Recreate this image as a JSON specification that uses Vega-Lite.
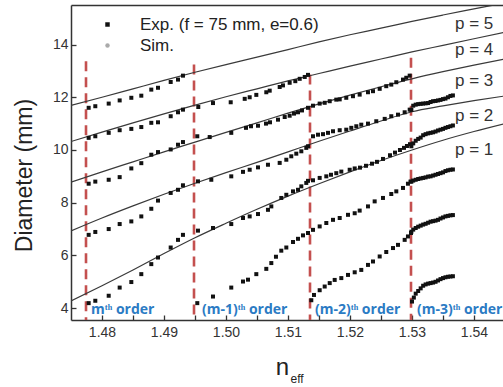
{
  "$schema": "https://vega.github.io/schema/vega-lite/v6.json",
  "width": 432,
  "height": 315,
  "autosize": {"type": "none"},
  "padding": {"left": 71, "top": 5, "right": 0, "bottom": 67},
  "background": "white",
  "config": {"view": {"stroke": null}, "font": "Liberation Sans"},
  "resolve": {"axis": {"x": "independent"}},
  "layer": [
    {
      "data": {"values": [
        {"n": 1.47742, "top": 13.37, "bottom": 3.55},
        {"n": 1.49484, "top": 13.24, "bottom": 3.55},
        {"n": 1.51355, "top": 12.86, "bottom": 3.55},
        {"n": 1.52984, "top": 13.5, "bottom": 3.55}
      ]},
      "mark": {"type": "rule", "color": "#c4504f", "strokeWidth": 2.6, "strokeDash": [10, 6]},
      "encoding": {
        "x": {"field": "n", "type": "quantitative",
          "scale": {"domain": [1.475, 1.54468], "nice": false, "zero": false},
          "axis": {"orient": "bottom", "values": [1.48, 1.485, 1.49, 1.495, 1.5, 1.505, 1.51, 1.515, 1.52, 1.525, 1.53, 1.535, 1.54],
            "labelExpr": "round(datum.value*1000) % 10 == 0 ? format(datum.value, '.2f') : ''",
            "title": "n", "titleFontSize": 24, "titleFontWeight": "normal", "titleColor": "#222",
            "titleX": 211, "titleY": 54, "titleAlign": "center", "titleBaseline": "alphabetic",
            "labelFontSize": 14, "labelColor": "#333", "labelPadding": 10, "labelFlush": false, "labelOverlap": false,
            "tickSize": -5, "tickColor": "#333", "tickWidth": 1.3, "domainColor": "#333", "domainWidth": 1.5, "grid": false}},
        "y": {"field": "top", "type": "quantitative",
          "scale": {"domain": [3.55, 15.5], "nice": false, "zero": false},
          "axis": {"values": [4, 5, 6, 7, 8, 9, 10, 11, 12, 13, 14, 15],
            "labelExpr": "datum.value % 2 == 0 ? datum.label : ''",
            "title": "Diameter (mm)", "titleFontSize": 23, "titleFontWeight": "normal", "titleColor": "#222",
            "titleX": -40, "titleY": 170, "titleAlign": "center", "titleBaseline": "alphabetic", "titleAngle": -90,
            "labelFontSize": 14, "labelColor": "#333", "labelPadding": 8, "labelFlush": false, "labelOverlap": false,
            "tickSize": -5, "tickColor": "#333", "tickWidth": 1.3, "domainColor": "#333", "domainWidth": 1.5, "grid": false}},
        "y2": {"field": "bottom"}
      }
    },
    {
      "data": {"values": [
        {"p": 1, "n": 1.475, "d": 4.27}, {"p": 1, "n": 1.48, "d": 4.85}, {"p": 1, "n": 1.485, "d": 5.45}, {"p": 1, "n": 1.49, "d": 6.07}, {"p": 1, "n": 1.495, "d": 6.67}, {"p": 1, "n": 1.5, "d": 7.22}, {"p": 1, "n": 1.505, "d": 7.75}, {"p": 1, "n": 1.51, "d": 8.25}, {"p": 1, "n": 1.515, "d": 8.72}, {"p": 1, "n": 1.52, "d": 9.17}, {"p": 1, "n": 1.525, "d": 9.6}, {"p": 1, "n": 1.53, "d": 10.0}, {"p": 1, "n": 1.535, "d": 10.37}, {"p": 1, "n": 1.54, "d": 10.7}, {"p": 1, "n": 1.545, "d": 11.0},
        {"p": 2, "n": 1.475, "d": 6.93}, {"p": 2, "n": 1.48, "d": 7.42}, {"p": 2, "n": 1.485, "d": 7.88}, {"p": 2, "n": 1.49, "d": 8.32}, {"p": 2, "n": 1.495, "d": 8.74}, {"p": 2, "n": 1.5, "d": 9.14}, {"p": 2, "n": 1.505, "d": 9.53}, {"p": 2, "n": 1.51, "d": 9.93}, {"p": 2, "n": 1.515, "d": 10.33}, {"p": 2, "n": 1.52, "d": 10.72}, {"p": 2, "n": 1.525, "d": 11.1}, {"p": 2, "n": 1.53, "d": 11.45}, {"p": 2, "n": 1.535, "d": 11.67}, {"p": 2, "n": 1.54, "d": 11.87}, {"p": 2, "n": 1.545, "d": 12.05},
        {"p": 3, "n": 1.475, "d": 8.78}, {"p": 3, "n": 1.48, "d": 9.17}, {"p": 3, "n": 1.485, "d": 9.55}, {"p": 3, "n": 1.49, "d": 9.93}, {"p": 3, "n": 1.495, "d": 10.3}, {"p": 3, "n": 1.5, "d": 10.67}, {"p": 3, "n": 1.505, "d": 11.03}, {"p": 3, "n": 1.51, "d": 11.4}, {"p": 3, "n": 1.515, "d": 11.75}, {"p": 3, "n": 1.52, "d": 12.08}, {"p": 3, "n": 1.525, "d": 12.4}, {"p": 3, "n": 1.53, "d": 12.7}, {"p": 3, "n": 1.535, "d": 12.97}, {"p": 3, "n": 1.54, "d": 13.22}, {"p": 3, "n": 1.545, "d": 13.45},
        {"p": 4, "n": 1.475, "d": 10.32}, {"p": 4, "n": 1.48, "d": 10.68}, {"p": 4, "n": 1.485, "d": 11.03}, {"p": 4, "n": 1.49, "d": 11.37}, {"p": 4, "n": 1.495, "d": 11.7}, {"p": 4, "n": 1.5, "d": 12.02}, {"p": 4, "n": 1.505, "d": 12.32}, {"p": 4, "n": 1.51, "d": 12.62}, {"p": 4, "n": 1.515, "d": 12.9}, {"p": 4, "n": 1.52, "d": 13.18}, {"p": 4, "n": 1.525, "d": 13.45}, {"p": 4, "n": 1.53, "d": 13.72}, {"p": 4, "n": 1.535, "d": 13.97}, {"p": 4, "n": 1.54, "d": 14.22}, {"p": 4, "n": 1.545, "d": 14.47},
        {"p": 5, "n": 1.475, "d": 11.69}, {"p": 5, "n": 1.48, "d": 12.0}, {"p": 5, "n": 1.485, "d": 12.32}, {"p": 5, "n": 1.49, "d": 12.64}, {"p": 5, "n": 1.495, "d": 12.95}, {"p": 5, "n": 1.5, "d": 13.24}, {"p": 5, "n": 1.505, "d": 13.52}, {"p": 5, "n": 1.51, "d": 13.81}, {"p": 5, "n": 1.515, "d": 14.1}, {"p": 5, "n": 1.52, "d": 14.37}, {"p": 5, "n": 1.525, "d": 14.62}, {"p": 5, "n": 1.53, "d": 14.88}, {"p": 5, "n": 1.535, "d": 15.12}, {"p": 5, "n": 1.54, "d": 15.35}, {"p": 5, "n": 1.545, "d": 15.58}
      ]},
      "mark": {"type": "line", "color": "#3a3a3a", "strokeWidth": 1.2, "clip": true, "interpolate": "monotone"},
      "encoding": {
        "x": {"field": "n", "type": "quantitative", "axis": null},
        "y": {"field": "d", "type": "quantitative"},
        "detail": {"field": "p", "type": "nominal"}
      }
    },
    {
      "data": {"values": [
        {"n": 1.47785, "d": 11.60}, {"n": 1.47892, "d": 11.66}, {"n": 1.48108, "d": 11.76}, {"n": 1.48285, "d": 11.88}, {"n": 1.48473, "d": 11.98}, {"n": 1.48634, "d": 12.06}, {"n": 1.48795, "d": 12.29}, {"n": 1.48903, "d": 12.36}, {"n": 1.49108, "d": 12.58}, {"n": 1.49226, "d": 12.67}, {"n": 1.49306, "d": 12.82},
        {"n": 1.47785, "d": 10.46}, {"n": 1.47892, "d": 10.52}, {"n": 1.48108, "d": 10.65}, {"n": 1.48285, "d": 10.75}, {"n": 1.48473, "d": 10.80}, {"n": 1.48634, "d": 10.87}, {"n": 1.48795, "d": 11.03}, {"n": 1.48903, "d": 11.05}, {"n": 1.49108, "d": 11.28}, {"n": 1.49226, "d": 11.43}, {"n": 1.49306, "d": 11.53},
        {"n": 1.47785, "d": 8.72}, {"n": 1.47892, "d": 8.80}, {"n": 1.48108, "d": 8.87}, {"n": 1.48285, "d": 8.97}, {"n": 1.48473, "d": 9.30}, {"n": 1.48634, "d": 9.50}, {"n": 1.48795, "d": 9.82}, {"n": 1.48903, "d": 9.92}, {"n": 1.49108, "d": 10.02}, {"n": 1.49226, "d": 10.20}, {"n": 1.49306, "d": 10.30},
        {"n": 1.47785, "d": 6.78}, {"n": 1.47892, "d": 6.89}, {"n": 1.48108, "d": 7.00}, {"n": 1.48285, "d": 7.19}, {"n": 1.48473, "d": 7.29}, {"n": 1.48634, "d": 7.48}, {"n": 1.48795, "d": 7.77}, {"n": 1.48903, "d": 8.08}, {"n": 1.49108, "d": 8.37}, {"n": 1.49226, "d": 8.49}, {"n": 1.49306, "d": 8.66},
        {"n": 1.47785, "d": 4.19}, {"n": 1.47892, "d": 4.28}, {"n": 1.48108, "d": 4.47}, {"n": 1.48285, "d": 4.78}, {"n": 1.48473, "d": 4.99}, {"n": 1.48634, "d": 5.29}, {"n": 1.48795, "d": 5.67}, {"n": 1.48903, "d": 5.92}, {"n": 1.49108, "d": 6.30}, {"n": 1.49226, "d": 6.59}, {"n": 1.49306, "d": 6.78},

        {"n": 1.49553, "d": 11.63}, {"n": 1.4979, "d": 11.78}, {"n": 1.50076, "d": 11.81}, {"n": 1.50302, "d": 11.94}, {"n": 1.50382, "d": 12.0}, {"n": 1.50489, "d": 12.09}, {"n": 1.5065, "d": 12.19}, {"n": 1.50705, "d": 12.25}, {"n": 1.50866, "d": 12.39}, {"n": 1.50919, "d": 12.45}, {"n": 1.51027, "d": 12.55}, {"n": 1.51118, "d": 12.61}, {"n": 1.51189, "d": 12.7}, {"n": 1.5127, "d": 12.77}, {"n": 1.51323, "d": 12.85},
        {"n": 1.49537, "d": 10.52}, {"n": 1.49737, "d": 10.49}, {"n": 1.50085, "d": 10.65}, {"n": 1.50323, "d": 10.84}, {"n": 1.50403, "d": 10.9}, {"n": 1.50516, "d": 10.92}, {"n": 1.50645, "d": 11.0}, {"n": 1.5071, "d": 11.05}, {"n": 1.50839, "d": 11.15}, {"n": 1.50947, "d": 11.25}, {"n": 1.51027, "d": 11.3}, {"n": 1.51097, "d": 11.38}, {"n": 1.51161, "d": 11.43}, {"n": 1.51226, "d": 11.5}, {"n": 1.51323, "d": 11.6},
        {"n": 1.49548, "d": 8.81}, {"n": 1.49763, "d": 8.87}, {"n": 1.50085, "d": 9.0}, {"n": 1.50274, "d": 9.17}, {"n": 1.50382, "d": 9.25}, {"n": 1.50516, "d": 9.34}, {"n": 1.50677, "d": 9.44}, {"n": 1.50866, "d": 9.51}, {"n": 1.50973, "d": 9.63}, {"n": 1.51053, "d": 9.76}, {"n": 1.51134, "d": 9.86}, {"n": 1.51215, "d": 9.95}, {"n": 1.51295, "d": 10.08}, {"n": 1.51323, "d": 10.14},
        {"n": 1.49548, "d": 6.94}, {"n": 1.4979, "d": 7.04}, {"n": 1.50085, "d": 7.19}, {"n": 1.50274, "d": 7.42}, {"n": 1.50382, "d": 7.48}, {"n": 1.50516, "d": 7.57}, {"n": 1.50677, "d": 7.73}, {"n": 1.50731, "d": 7.86}, {"n": 1.50892, "d": 8.18}, {"n": 1.50973, "d": 8.30}, {"n": 1.51081, "d": 8.43}, {"n": 1.51161, "d": 8.49}, {"n": 1.51215, "d": 8.62}, {"n": 1.51295, "d": 8.75}, {"n": 1.51323, "d": 8.83},
        {"n": 1.49537, "d": 4.19}, {"n": 1.4979, "d": 4.44}, {"n": 1.50085, "d": 4.78}, {"n": 1.50274, "d": 5.01}, {"n": 1.50355, "d": 5.08}, {"n": 1.50489, "d": 5.29}, {"n": 1.5065, "d": 5.49}, {"n": 1.50731, "d": 5.71}, {"n": 1.50806, "d": 5.95}, {"n": 1.50892, "d": 6.18}, {"n": 1.50973, "d": 6.30}, {"n": 1.51081, "d": 6.51}, {"n": 1.51161, "d": 6.63}, {"n": 1.51242, "d": 6.76}, {"n": 1.51323, "d": 6.85},

        {"n": 1.51403, "d": 11.68}, {"n": 1.51511, "d": 11.76}, {"n": 1.51592, "d": 11.79}, {"n": 1.51673, "d": 11.85}, {"n": 1.51779, "d": 11.91}, {"n": 1.51834, "d": 11.92}, {"n": 1.5194, "d": 11.98}, {"n": 1.52048, "d": 12.04}, {"n": 1.52156, "d": 12.10}, {"n": 1.5229, "d": 12.19}, {"n": 1.52371, "d": 12.23}, {"n": 1.52479, "d": 12.32}, {"n": 1.52585, "d": 12.42}, {"n": 1.52666, "d": 12.48}, {"n": 1.52747, "d": 12.57}, {"n": 1.52855, "d": 12.67}, {"n": 1.52908, "d": 12.74}, {"n": 1.52963, "d": 12.82},
        {"n": 1.51403, "d": 10.52}, {"n": 1.51484, "d": 10.58}, {"n": 1.51565, "d": 10.60}, {"n": 1.51645, "d": 10.65}, {"n": 1.51726, "d": 10.71}, {"n": 1.51834, "d": 10.75}, {"n": 1.5194, "d": 10.77}, {"n": 1.52021, "d": 10.84}, {"n": 1.52102, "d": 10.90}, {"n": 1.52182, "d": 10.96}, {"n": 1.5229, "d": 11.00}, {"n": 1.52424, "d": 11.09}, {"n": 1.5256, "d": 11.18}, {"n": 1.52666, "d": 11.28}, {"n": 1.52774, "d": 11.34}, {"n": 1.52882, "d": 11.43}, {"n": 1.52963, "d": 11.53},
        {"n": 1.51403, "d": 8.85}, {"n": 1.51511, "d": 8.94}, {"n": 1.51618, "d": 9.00}, {"n": 1.51694, "d": 9.06}, {"n": 1.51779, "d": 9.12}, {"n": 1.5186, "d": 9.18}, {"n": 1.51995, "d": 9.25}, {"n": 1.52076, "d": 9.30}, {"n": 1.52161, "d": 9.33}, {"n": 1.52258, "d": 9.40}, {"n": 1.52355, "d": 9.48}, {"n": 1.52435, "d": 9.55}, {"n": 1.52532, "d": 9.66}, {"n": 1.52645, "d": 9.80}, {"n": 1.52726, "d": 9.90}, {"n": 1.52806, "d": 10.00}, {"n": 1.52871, "d": 10.08}, {"n": 1.52919, "d": 10.15}, {"n": 1.52968, "d": 10.22},
        {"n": 1.51403, "d": 6.97}, {"n": 1.51511, "d": 7.10}, {"n": 1.51618, "d": 7.23}, {"n": 1.51726, "d": 7.35}, {"n": 1.51834, "d": 7.42}, {"n": 1.51968, "d": 7.54}, {"n": 1.52076, "d": 7.60}, {"n": 1.52156, "d": 7.70}, {"n": 1.5229, "d": 7.86}, {"n": 1.52398, "d": 8.05}, {"n": 1.52532, "d": 8.18}, {"n": 1.52666, "d": 8.33}, {"n": 1.52747, "d": 8.43}, {"n": 1.52855, "d": 8.56}, {"n": 1.52935, "d": 8.72}, {"n": 1.52976, "d": 8.80},
        {"n": 1.51376, "d": 4.30}, {"n": 1.51419, "d": 4.50}, {"n": 1.51511, "d": 4.68}, {"n": 1.51592, "d": 4.82}, {"n": 1.51673, "d": 4.95}, {"n": 1.51753, "d": 5.07}, {"n": 1.5186, "d": 5.14}, {"n": 1.51968, "d": 5.26}, {"n": 1.52076, "d": 5.36}, {"n": 1.52182, "d": 5.45}, {"n": 1.5229, "d": 5.64}, {"n": 1.52371, "d": 5.77}, {"n": 1.52479, "d": 5.96}, {"n": 1.52585, "d": 6.13}, {"n": 1.52694, "d": 6.28}, {"n": 1.52774, "d": 6.40}, {"n": 1.52882, "d": 6.59}, {"n": 1.52935, "d": 6.72}, {"n": 1.52984, "d": 6.85},

        {"n": 1.5299, "d": 11.52}, {"n": 1.5302, "d": 11.68}, {"n": 1.5306, "d": 11.72}, {"n": 1.531, "d": 11.74}, {"n": 1.5314, "d": 11.75}, {"n": 1.5318, "d": 11.76}, {"n": 1.5322, "d": 11.77}, {"n": 1.5326, "d": 11.78}, {"n": 1.533, "d": 11.82}, {"n": 1.5334, "d": 11.85}, {"n": 1.5338, "d": 11.86}, {"n": 1.5342, "d": 11.88}, {"n": 1.5346, "d": 11.9}, {"n": 1.535, "d": 11.93}, {"n": 1.5354, "d": 11.95}, {"n": 1.5358, "d": 12.0}, {"n": 1.5362, "d": 12.05}, {"n": 1.5366, "d": 12.07},
        {"n": 1.5299, "d": 10.14}, {"n": 1.5302, "d": 10.25}, {"n": 1.5306, "d": 10.35}, {"n": 1.531, "d": 10.42}, {"n": 1.5314, "d": 10.47}, {"n": 1.5318, "d": 10.56}, {"n": 1.5322, "d": 10.6}, {"n": 1.5326, "d": 10.63}, {"n": 1.533, "d": 10.65}, {"n": 1.5334, "d": 10.67}, {"n": 1.5338, "d": 10.7}, {"n": 1.5342, "d": 10.74}, {"n": 1.5346, "d": 10.77}, {"n": 1.535, "d": 10.8}, {"n": 1.5354, "d": 10.84}, {"n": 1.5358, "d": 10.87}, {"n": 1.5362, "d": 10.9}, {"n": 1.5366, "d": 10.93},
        {"n": 1.5299, "d": 8.8}, {"n": 1.5302, "d": 8.84}, {"n": 1.5306, "d": 8.87}, {"n": 1.531, "d": 8.9}, {"n": 1.5314, "d": 8.92}, {"n": 1.5318, "d": 8.94}, {"n": 1.5322, "d": 8.96}, {"n": 1.5326, "d": 8.99}, {"n": 1.533, "d": 9.0}, {"n": 1.5334, "d": 9.03}, {"n": 1.5338, "d": 9.06}, {"n": 1.5342, "d": 9.09}, {"n": 1.5346, "d": 9.12}, {"n": 1.535, "d": 9.15}, {"n": 1.5354, "d": 9.2}, {"n": 1.5358, "d": 9.23}, {"n": 1.5362, "d": 9.25}, {"n": 1.5366, "d": 9.26},
        {"n": 1.5299, "d": 6.9}, {"n": 1.5302, "d": 6.98}, {"n": 1.5306, "d": 7.04}, {"n": 1.531, "d": 7.09}, {"n": 1.5314, "d": 7.13}, {"n": 1.5318, "d": 7.17}, {"n": 1.5322, "d": 7.2}, {"n": 1.5326, "d": 7.24}, {"n": 1.533, "d": 7.28}, {"n": 1.5334, "d": 7.3}, {"n": 1.5338, "d": 7.32}, {"n": 1.5342, "d": 7.35}, {"n": 1.5346, "d": 7.4}, {"n": 1.535, "d": 7.44}, {"n": 1.5354, "d": 7.48}, {"n": 1.5358, "d": 7.5}, {"n": 1.5362, "d": 7.52}, {"n": 1.5366, "d": 7.53},
        {"n": 1.53, "d": 4.25}, {"n": 1.5303, "d": 4.4}, {"n": 1.5306, "d": 4.55}, {"n": 1.531, "d": 4.65}, {"n": 1.5314, "d": 4.75}, {"n": 1.5318, "d": 4.85}, {"n": 1.5322, "d": 4.9}, {"n": 1.5326, "d": 4.93}, {"n": 1.533, "d": 4.95}, {"n": 1.5334, "d": 4.97}, {"n": 1.5338, "d": 5.0}, {"n": 1.5342, "d": 5.05}, {"n": 1.5346, "d": 5.1}, {"n": 1.535, "d": 5.14}, {"n": 1.5354, "d": 5.17}, {"n": 1.5358, "d": 5.19}, {"n": 1.5362, "d": 5.2}, {"n": 1.5366, "d": 5.21}
      ]},
      "mark": {"type": "point", "filled": true, "size": 16, "opacity": 1},
      "encoding": {
        "x": {"field": "n", "type": "quantitative", "axis": null},
        "y": {"field": "d", "type": "quantitative"},
        "color": {"datum": "Exp. (f = 75 mm, e=0.6)", "type": "nominal",
          "scale": {"domain": ["Exp. (f = 75 mm, e=0.6)", "Sim."], "range": ["#111111", "#aaaaaa"]},
          "legend": {"orient": "none", "legendX": 28, "legendY": 11, "title": null, "padding": 0,
            "labelFontSize": 17, "labelColor": "#222", "labelFont": "Liberation Sans", "labelOffset": 24, "rowPadding": 3,
            "labelLimit": 0, "symbolSize": 20, "symbolStrokeWidth": 0,
            "encode": {"symbols": {"update": {"size": {"signal": "datum.value === 'Sim.' ? 8 : 20"}}}}}},
        "shape": {"datum": "Exp. (f = 75 mm, e=0.6)", "type": "nominal",
          "scale": {"domain": ["Exp. (f = 75 mm, e=0.6)", "Sim."], "range": ["square", "circle"]}}
      }
    },
    {
      "data": {"values": [
        {"n": 1.53694, "d": 14.6, "label": "p = 5"},
        {"n": 1.53694, "d": 13.62, "label": "p = 4"},
        {"n": 1.53694, "d": 12.44, "label": "p = 3"},
        {"n": 1.53694, "d": 11.09, "label": "p = 2"},
        {"n": 1.53694, "d": 9.82, "label": "p = 1"}
      ]},
      "mark": {"type": "text", "align": "left", "baseline": "alphabetic", "fontSize": 17, "font": "Liberation Sans", "color": "#333"},
      "encoding": {
        "x": {"field": "n", "type": "quantitative",
          "axis": {"orient": "top", "labels": false, "ticks": false, "grid": false, "domainColor": "#333", "domainWidth": 1.5,
            "title": "eff", "titleFontSize": 12, "titleFontWeight": "normal", "titleColor": "#222",
            "titleX": 219, "titleY": 377, "titleAlign": "left", "titleBaseline": "alphabetic", "titleAngle": 0}},
        "y": {"field": "d", "type": "quantitative"},
        "text": {"field": "label"}
      }
    },
    {
      "data": {"values": [
        {"n": 1.47823, "d": 3.78, "label": "mᵗʰ order"},
        {"n": 1.49613, "d": 3.78, "label": "(m-1)ᵗʰ order"},
        {"n": 1.51435, "d": 3.78, "label": "(m-2)ᵗʰ order"},
        {"n": 1.53081, "d": 3.78, "label": "(m-3)ᵗʰ order"}
      ]},
      "mark": {"type": "text", "align": "left", "baseline": "alphabetic", "fontSize": 14, "font": "Open Sans", "fontWeight": "bold", "color": "#2b7bc4"},
      "encoding": {
        "x": {"field": "n", "type": "quantitative", "axis": null},
        "y": {"field": "d", "type": "quantitative"},
        "text": {"field": "label"}
      }
    }
  ]
}
